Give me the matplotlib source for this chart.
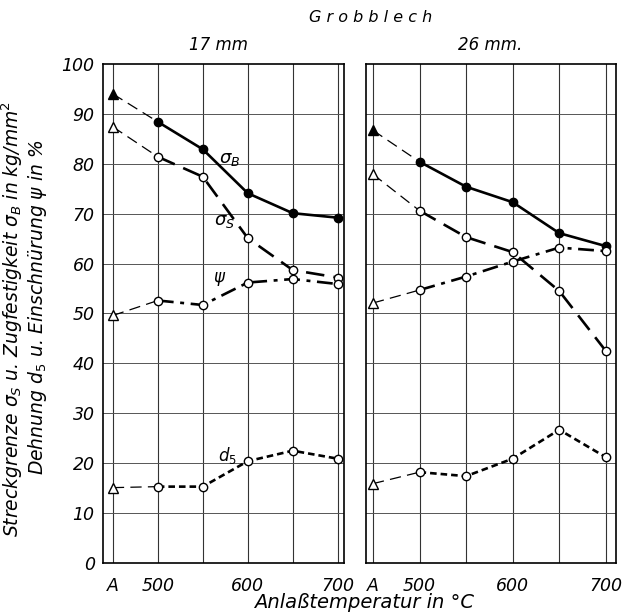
import matplotlib.pyplot as plt

# x positions: "A" (as delivered) placed one step left of 500
X_POS = [450, 500, 550, 600, 650, 700]
TICK_POS = [450, 500, 600, 700]
TICK_LABELS = ["A", "500", "600", "700"]

# 17 mm plate
sb_17 = [94.0, 88.4, 82.9, 74.1, 70.1, 69.2]
ss_17 = [87.4, 81.4, 77.4, 65.1, 58.7, 57.2]
psi_17 = [49.6, 52.6, 51.7, 56.2, 56.9, 55.9]
d5_17 = [15.1, 15.3, 15.3, 20.4, 22.5, 20.9]

# 26 mm plate
sb_26 = [86.7, 80.4, 75.4, 72.3, 66.1, 63.5]
ss_26 = [77.9, 70.6, 65.3, 62.3, 54.5, 42.5]
psi_26 = [52.1, 54.7, 57.4, 60.4, 63.2, 62.5]
d5_26 = [15.9, 18.2, 17.4, 20.9, 26.7, 21.2]

FONT = dict(family="DejaVu Sans", style="italic")
LW = 1.9


def draw_series(ax, y, ls, filled):
    fc = "black" if filled else "white"
    # thin long-dash segment from "A" to 500
    ax.plot(X_POS[:2], y[:2], color="black", lw=0.9, ls=(0, (9, 5)), zorder=2)
    ax.plot(X_POS[1:], y[1:], color="black", lw=LW, ls=ls, zorder=2)
    ax.plot(X_POS[:1], y[:1], ls="none", marker="^", ms=6.5, mfc=fc,
            mec="black", mew=1.0, zorder=3)
    ax.plot(X_POS[1:], y[1:], ls="none", marker="o", ms=6, mfc=fc,
            mec="black", mew=1.0, zorder=3)


def setup(ax, xlim, show_y):
    ax.set_xlim(*xlim)
    ax.set_ylim(0, 100)
    for x in X_POS:
        ax.axvline(x, color="#333333", lw=0.8, zorder=1)
    for yv in range(10, 100, 10):
        ax.axhline(yv, color="#555555", lw=0.7, zorder=1)
    ax.set_xticks(TICK_POS)
    ax.set_xticklabels(TICK_LABELS, fontdict=dict(size=12.5, **FONT))
    ax.set_yticks(range(0, 101, 10))
    if show_y:
        ax.set_yticklabels([str(v) for v in range(0, 101, 10)],
                           fontdict=dict(size=12.5, **FONT))
    else:
        ax.set_yticklabels([])
    ax.tick_params(axis="x", length=0, pad=10)
    ax.tick_params(axis="y", length=0, pad=6)
    for s in ax.spines.values():
        s.set_linewidth(1.2)


fig = plt.figure(figsize=(6.33, 6.14), dpi=100)
ax1 = fig.add_axes([0.1627, 0.0831, 0.3807, 0.8127])
ax2 = fig.add_axes([0.5782, 0.0831, 0.3950, 0.8127])

setup(ax1, (439, 707), True)
setup(ax2, (442.5, 711), False)

styles = [
    ("sb", "-", True),
    ("ss", (0, (7, 3.5)), False),
    ("psi", (0, (6, 2.5, 1.5, 2.5)), False),
    ("d5", (0, (2.5, 1.5)), False),
]
data17 = dict(sb=sb_17, ss=ss_17, psi=psi_17, d5=d5_17)
data26 = dict(sb=sb_26, ss=ss_26, psi=psi_26, d5=d5_26)
for key, ls, filled in styles:
    draw_series(ax1, data17[key], ls, filled)
    draw_series(ax2, data26[key], ls, filled)

# curve labels (17 mm panel)
lab = dict(ha="center", va="center", zorder=4)
ax1.text(580, 81, r"$\it{\sigma_B}$", fontsize=13, **lab)
ax1.text(574, 68.5, r"$\it{\sigma_S}$", fontsize=13, **lab)
ax1.text(569, 57, r"$\it{\psi}$", fontsize=12, **lab)
ax1.text(577, 21.5, r"$\it{d_5}$", fontsize=12, **lab)

fig.text(0.585, 0.972, "G r o b b l e c h", ha="center", va="center",
         fontsize=11.5, **FONT)
fig.text(0.345, 0.926, "17 mm", ha="center", va="center", fontsize=12, **FONT)
fig.text(0.775, 0.926, "26 mm.", ha="center", va="center", fontsize=12, **FONT)
fig.text(0.575, 0.018, "Anlaßtemperatur in °C", ha="center", va="center",
         fontsize=14, **FONT)
fig.text(0.020, 0.48,
         r"Streckgrenze $\sigma_S$ u. Zugfestigkeit $\sigma_B$ in kg/mm$^2$",
         rotation=90, ha="center", va="center", fontsize=13.5, **FONT)
fig.text(0.060, 0.50, r"Dehnung $d_5$ u. Einschnürung $\psi$ in %",
         rotation=90, ha="center", va="center", fontsize=13.5, **FONT)

fig.savefig("out.png", dpi=100)
